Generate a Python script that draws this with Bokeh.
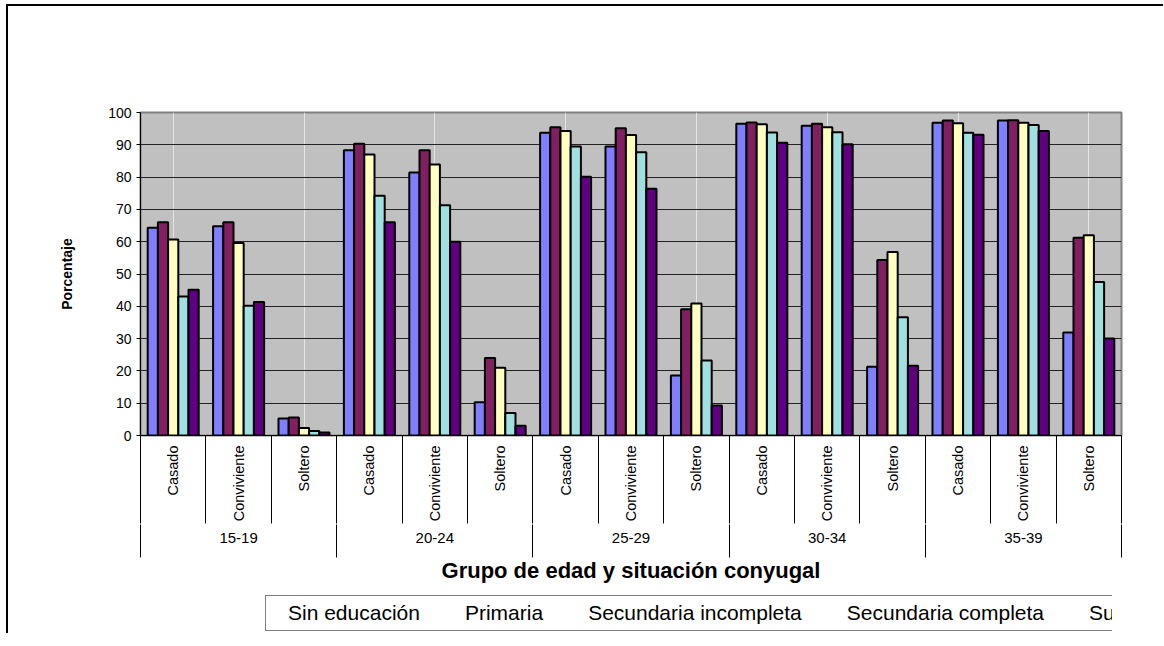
import math
import numpy as np
from bokeh.plotting import figure
from bokeh.layouts import column
from bokeh.models import (Range1d, LinearAxis, FixedTicker, Legend, LegendItem)
from bokeh.embed import file_html
from bokeh.resources import INLINE

# ---------------- data ----------------
grupos = ["15-19", "20-24", "25-29", "30-34", "35-39"]
situaciones = ["Casado", "Conviviente", "Soltero"]
series = ["Sin educación", "Primaria", "Secundaria incompleta",
          "Secundaria completa", "Superior"]

sin_educacion = [64.3, 64.8, 5.3, 88.3, 81.4, 10.3, 93.7, 89.5, 18.6,
                 96.5, 95.9, 21.3, 96.8, 97.5, 31.9]
primaria = [66.0, 66.0, 5.6, 90.3, 88.3, 24.0, 95.4, 95.1, 39.1,
            96.9, 96.5, 54.3, 97.5, 97.6, 61.2]
sec_incompleta = [60.7, 59.6, 2.3, 87.0, 83.9, 21.0, 94.3, 93.0, 40.9,
                  96.4, 95.4, 56.8, 96.7, 96.8, 62.0]
sec_completa = [43.0, 40.2, 1.4, 74.2, 71.3, 7.0, 89.5, 87.7, 23.2,
                93.8, 93.9, 36.6, 93.7, 96.1, 47.5]
superior = [45.1, 41.3, 0.9, 66.0, 60.0, 3.0, 80.1, 76.4, 9.3,
            90.6, 90.2, 21.6, 93.1, 94.3, 30.0]

valores = [sin_educacion, primaria, sec_incompleta, sec_completa, superior]
colores = ["#8080FF", "#802060", "#FFFFC0", "#A0E0E0", "#600080"]

y_ticks = list(range(0, 101, 10))

# ---------------- main figure ----------------
n_sub = len(grupos) * len(situaciones)
p = figure(frame_width=979, frame_height=321, output_backend="svg", toolbar_location=None,
           x_range=Range1d(-0.5, n_sub - 0.5), y_range=Range1d(0, 100),
           x_axis_location=None,
           min_border_left=132, min_border_right=44, min_border_top=106,
           min_border_bottom=160)
p.styles = {"border-top": "2px solid black", "border-left": "2px solid black",
            "margin-top": "4px", "margin-left": "6px"}
p.background_fill_color = "#C0C0C0"
p.border_fill_color = "white"
p.outline_line_color = "#808080"
p.outline_line_width = 2

# y axis
yax = p.yaxis[0]
yax.ticker = FixedTicker(ticks=y_ticks)
yax.axis_label = "Porcentaje"
yax.axis_label_text_font = "Liberation Sans"
yax.axis_label_text_font_style = "bold"
yax.axis_label_text_font_size = "14px"
yax.axis_label_text_color = "black"
yax.axis_label_standoff = 30
yax.major_label_text_font = "Liberation Sans"
yax.major_label_text_font_size = "14px"
yax.major_label_text_color = "black"
yax.major_label_standoff = 5
yax.major_tick_out = 4
yax.major_tick_in = 0
yax.major_tick_line_color = "black"
yax.minor_tick_line_color = None
yax.axis_line_color = "black"

p.ygrid.grid_line_color = "#222222"
p.ygrid.grid_line_width = 1

# bars
w = 0.156
x_centers = np.arange(n_sub)
for k, (vals, col) in enumerate(zip(valores, colores)):
    p.vbar(x=x_centers + (k - 2) * w, top=vals, bottom=0, width=w,
           fill_color=col, line_color="black", line_width=2)

# x axis A: situaciones (rotated) + separators between every sub-category
sub_labels = {int(i): situaciones[i % 3] for i in range(n_sub)}
ax_a = LinearAxis(ticker=FixedTicker(ticks=list(range(n_sub)),
                                     minor_ticks=[i - 0.5 for i in range(n_sub + 1)]),
                  major_label_overrides=sub_labels,
                  major_label_orientation=math.pi / 2,
                  major_label_text_font="Liberation Sans",
                  major_label_text_font_size="14.5px",
                  major_label_text_color="black",
                  major_label_standoff=10,
                  major_tick_line_color=None, major_tick_out=0, major_tick_in=0,
                  minor_tick_out=0, minor_tick_in=-88,
                  minor_tick_line_color="black", minor_tick_line_width=1,
                  axis_line_color="black", axis_line_width=1)
p.add_layout(ax_a, "below")

# x axis B: grupos de edad + longer separators between groups
grp_centers = [1 + 3 * g for g in range(len(grupos))]
grp_labels = {c: grupos[g] for g, c in enumerate(grp_centers)}
ax_b = LinearAxis(ticker=FixedTicker(ticks=grp_centers,
                                     minor_ticks=[3 * g - 0.5 for g in range(len(grupos) + 1)]),
                  major_label_overrides=grp_labels,
                  major_label_text_font="Liberation Sans",
                  major_label_text_font_size="15px",
                  major_label_text_color="black",
                  major_label_standoff=8,
                  major_tick_line_color=None, major_tick_out=0, major_tick_in=0,
                  minor_tick_out=0, minor_tick_in=-33,
                  minor_tick_line_color="black", minor_tick_line_width=1,
                  axis_line_color=None,
                  axis_label="Grupo de edad y situación conyugal",
                  axis_label_text_font="Liberation Sans",
                  axis_label_text_font_style="bold",
                  axis_label_text_font_size="22px",
                  axis_label_text_color="black",
                  axis_label_standoff=12)
p.add_layout(ax_b, "below")

# ---------------- legend strip (separate small figure) ----------------
pl = figure(width=1148, height=40, output_backend="svg", toolbar_location=None,
            x_range=Range1d(0, 1), y_range=Range1d(0, 1),
            x_axis_location=None, y_axis_location=None,
            min_border=0)
pl.styles = {"border-left": "2px solid black", "margin-left": "6px"}
pl.outline_line_color = None
pl.background_fill_color = "white"
pl.border_fill_color = "white"
pl.xgrid.visible = False
pl.ygrid.visible = False
proxies = []
for col in colores:
    proxies.append(pl.vbar(x=[], top=[], bottom=0, width=0.1,
                           fill_color=col, line_color="black", line_width=2))

legend = Legend(items=[LegendItem(label=s, renderers=[r]) for s, r in zip(series, proxies)],
                orientation="horizontal", location=(125, 2),
                label_text_font="Liberation Sans", label_text_font_size="21px",
                label_text_color="black",
                glyph_width=12, glyph_height=12, label_standoff=5, spacing=28,
                padding=5, margin=0,
                border_line_color="black", border_line_width=1,
                background_fill_color="white", background_fill_alpha=1)
pl.add_layout(legend)

layout = column(p, pl, spacing=0)
open("out.html", "w").write(file_html(layout, INLINE))
